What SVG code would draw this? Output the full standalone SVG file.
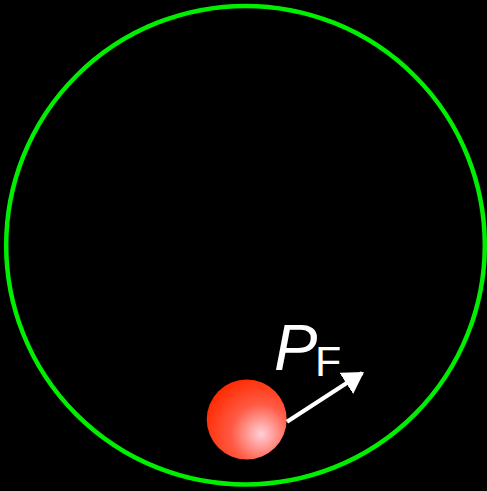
<svg xmlns="http://www.w3.org/2000/svg" width="487" height="491" viewBox="0 0 487 491">
<defs>
<radialGradient id="ball" cx="0.68" cy="0.68" r="0.75" fx="0.68" fy="0.68">
<stop offset="0" stop-color="#ffd0d8"/>
<stop offset="0.5" stop-color="#ff5a44"/>
<stop offset="1" stop-color="#ff2a00"/>
</radialGradient>
<marker id="ah" markerWidth="6" markerHeight="6" refX="4.5" refY="3" orient="auto" markerUnits="strokeWidth">
<path d="M0,0 L5,3 L0,6 z" fill="#fff"/>
</marker>
</defs>
<style>
text{font-family:"Liberation Sans",Arial,sans-serif;fill:#fff}
</style>
<rect width="487" height="491" fill="#000"/>
<g id="ring"><circle cx="245.5" cy="245.2" r="239.3" fill="none" stroke="#00ee00" stroke-width="4.5"/></g>
<g id="ball-node"><circle cx="246.7" cy="419.5" r="40" fill="url(#ball)"/></g>
<g id="connectors">
<line x1="287" y1="421.7" x2="362.2" y2="373.1" stroke="#fff" stroke-width="4.2" marker-end="url(#ah)"/>
</g>
<g id="label"><text x="274" y="370" font-size="65" font-style="italic">P</text><text x="315" y="376" font-size="43">F</text></g>
</svg>
